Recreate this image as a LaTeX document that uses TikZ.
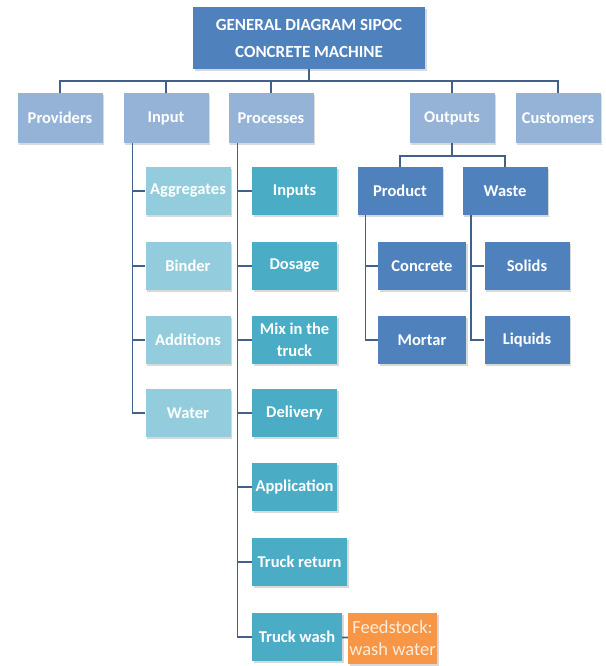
\documentclass[tikz,border=0pt]{standalone}
\usepackage{fontspec}
\setmainfont{Carlito}
\usetikzlibrary{shadows}

\definecolor{titleblue}{HTML}{4F81BD}
\definecolor{sipocblue}{HTML}{95B3D7}
\definecolor{inputcyan}{HTML}{93CDDD}
\definecolor{proccyan}{HTML}{4BACC6}
\definecolor{feedorange}{HTML}{F79646}
\definecolor{linkblue}{HTML}{41618C}

\begin{document}
\begin{tikzpicture}[
    x=1pt, y=-1pt,
    font=\fontsize{16.5}{22}\selectfont\bfseries,
    box/.style = {
      shape=rectangle,
      text=white,
      align=center,
      inner sep=1pt,
      minimum width=85pt,
      minimum height=48pt,
      drop shadow={shadow xshift=1.5pt, shadow yshift=-2pt, opacity=.25, fill=black!60}
    },
    headbox/.style = {box, fill=titleblue, minimum width=232pt, minimum height=62pt,
      font=\fontsize{17}{27}\selectfont\bfseries},
    sipocbox/.style = {box, fill=sipocblue, minimum height=49pt},
    inputbox/.style = {box, fill=inputcyan},
    procbox/.style = {box, fill=proccyan},
    outbox/.style = {box, fill=titleblue},
    feedbox/.style = {box, fill=feedorange, text=orange!15, minimum width=89pt,
      minimum height=51pt, font=\fontsize{18.5}{22}\selectfont},
    link/.style = {draw=linkblue, line width=1.6pt}
    ]

    \useasboundingbox (0,0) rectangle (605,666);

    % title and SIPOC row
    \node[headbox] (title) at (309,38) {GENERAL DIAGRAM SIPOC\\CONCRETE MACHINE};
    \node[sipocbox] (providers) at (60,118) {Providers};
    \node[sipocbox] (input) at (166,118) {Input};
    \node[sipocbox] (processes) at (271,118) {Processes};
    \node[sipocbox] (outputs) at (452,118) {Outputs};
    \node[sipocbox] (customers) at (558,118) {Customers};

    % input column
    \node[inputbox] (aggregates) at (188,191) {Aggregates};
    \node[inputbox] (binder) at (188,266) {Binder};
    \node[inputbox] (additions) at (188,340) {Additions};
    \node[inputbox] (water) at (188,413) {Water};

    % processes column
    \node[procbox] (inputs) at (294.5,191) {Inputs};
    \node[procbox] (dosage) at (294.5,266) {Dosage};
    \node[procbox] (mix) at (294.5,340) {Mix in the\\truck};
    \node[procbox] (delivery) at (294.5,413) {Delivery};
    \node[procbox] (application) at (294.5,487) {Application};
    \node[procbox, minimum width=95pt] (truckreturn) at (299.5,562) {Truck return};
    \node[procbox, minimum width=90pt] (truckwash) at (297,637) {Truck wash};
    \node[feedbox] (feedstock) at (392.5,638) {Feedstock:\\wash water};

    % outputs subtree
    \node[outbox] (product) at (400,191) {Product};
    \node[outbox] (waste) at (505,191) {Waste};
    \node[outbox, minimum width=88pt] (concrete) at (422,266) {Concrete};
    \node[outbox, minimum width=88pt] (mortar) at (422,340) {Mortar};
    \node[outbox] (solids) at (527,266) {Solids};
    \node[outbox] (liquids) at (527,340) {Liquids};

    % connectors
    \path (title.south) ++(0,12) coordinate (hub);
    \draw[link] (title.south) -- (hub);
    \draw[link] (providers.north) |- (hub) -| (customers.north);
    \foreach \n in {input,processes,outputs}
      \draw[link] (\n.north) -- (\n.north |- hub);

    \path ([xshift=9pt]input.south west) coordinate (inline);
    \draw[link] (inline) |- (water.west);
    \foreach \n in {aggregates,binder,additions}
      \draw[link] (\n.west) -- (\n.west -| inline);

    \path ([xshift=9pt]processes.south west) coordinate (procline);
    \draw[link] (procline) |- (truckwash.west);
    \foreach \n in {inputs,dosage,mix,delivery,application,truckreturn}
      \draw[link] (\n.west) -- (\n.west -| procline);
    \draw[link] (truckwash) -- (feedstock);

    \path (outputs.south) ++(0,13) coordinate (outhub);
    \draw[link] (outputs.south) -- (outhub);
    \draw[link] (product.north) |- (outhub) -| (waste.north);

    \path ([xshift=8pt]product.south west) coordinate (prodline);
    \draw[link] (prodline) |- (mortar.west);
    \draw[link] (concrete.west) -- (concrete.west -| prodline);

    \path ([xshift=8.5pt]waste.south west) coordinate (wasteline);
    \draw[link] (wasteline) |- (liquids.west);
    \draw[link] (solids.west) -- (solids.west -| wasteline);

  \end{tikzpicture}
\end{document}
